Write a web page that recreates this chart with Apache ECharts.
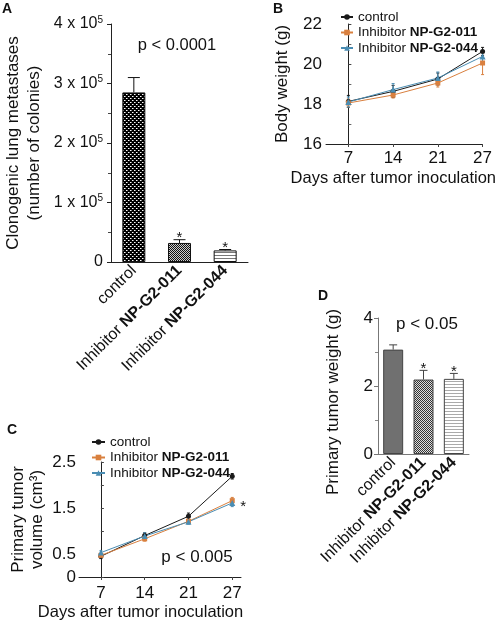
<!DOCTYPE html>
<html><head><meta charset="utf-8">
<script src="https://cdn.jsdelivr.net/npm/echarts@6/dist/echarts.min.js"></script>
<style>html,body{margin:0;padding:0;background:#fff}#c{width:498px;height:624px}</style>
</head><body><div id="c"></div>
<script>
// ---------------- DATA ----------------
const barCategories = ['control', 'Inhibitor NP-G2-011', 'Inhibitor NP-G2-044'];
// Panel A: clonogenic lung metastases (number of colonies)
const lungMetMeans = [285000, 32000, 19500];
const lungMetErr = [25000, 5500, 1500];
const lungMetSig = ['', '*', '*'];
// Panel B / C: days after tumor inoculation
const days = ['7', '14', '21', '27'];
const seriesNames = ['control', 'Inhibitor NP-G2-011', 'Inhibitor NP-G2-044'];
// Panel B: body weight (g)
const bwControl = [18.13, 18.63, 19.25, 20.63];
const bwControlErr = [0.3, 0.3, 0.3, 0.2];
const bw011 = [18.05, 18.45, 19.05, 20.05];
const bw011Err = [0.2, 0.15, 0.2, 0.58];
const bw044 = [18.1, 18.72, 19.3, 20.38];
const bw044Err = [0.25, 0.3, 0.3, 0.3];
// Panel C: primary tumor volume (cm3)
const tvControl = [0.45, 0.9, 1.32, 2.19];
const tvControlErr = [0.05, 0.06, 0.07, 0.06];
const tv011 = [0.47, 0.83, 1.21, 1.66];
const tv011Err = [0.04, 0.05, 0.05, 0.07];
const tv044 = [0.53, 0.89, 1.2, 1.61];
const tv044Err = [0.04, 0.07, 0.05, 0.08];
const tvSig = ['', '', '', '*'];
const tvLabeledTicks = [0, 0.5, 1.5, 2.5];
// Panel D: primary tumor weight (g)
const twMeans = [3.07, 2.19, 2.21];
const twErr = [0.14, 0.27, 0.16];
const twSig = ['', '*', '*'];

// ---------------- STYLE ----------------
const FONT = 'Liberation Sans, Arial, Helvetica, sans-serif';
const TXT = '#111';
const COLORS = ['#1a1a1a', '#d9803f', '#4a8db3'];
const SYMBOLS = ['circle', 'rect', 'triangle'];
const SYMSIZE = [5, 5, 6];

function makePattern(w, h, draw) {
  const c = document.createElement('canvas');
  c.width = w; c.height = h;
  const g = c.getContext('2d');
  draw(g);
  return { image: c, repeat: 'repeat' };
}
const patDots = makePattern(4, 4, g => {
  g.fillStyle = '#000'; g.fillRect(0, 0, 4, 4);
  g.fillStyle = '#fff'; g.fillRect(0, 0, 1, 1); g.fillRect(2, 2, 1, 1);
  g.fillStyle = '#888'; g.fillRect(1, 0, 1, 1); g.fillRect(3, 2, 1, 1);
});
const patChecker = makePattern(2, 2, g => {
  g.fillStyle = '#ccc'; g.fillRect(0, 0, 2, 2);
  g.fillStyle = '#111'; g.fillRect(0, 0, 1, 1); g.fillRect(1, 1, 1, 1);
});
const patStripes = makePattern(3, 3, g => {
  g.fillStyle = '#fff'; g.fillRect(0, 0, 3, 3);
  g.fillStyle = '#777'; g.fillRect(0, 0, 3, 1);
});
const patCheckerD = makePattern(2, 2, g => {
  g.fillStyle = '#ddd'; g.fillRect(0, 0, 2, 2);
  g.fillStyle = '#333'; g.fillRect(0, 0, 1, 1); g.fillRect(1, 1, 1, 1);
});
const patStripesD = makePattern(3, 3, g => {
  g.fillStyle = '#fff'; g.fillRect(0, 0, 3, 3);
  g.fillStyle = '#aaa'; g.fillRect(0, 0, 3, 1);
});
const patternsA = [patDots, patChecker, patStripes];
const patternsD = ['#707070', patCheckerD, patStripesD];

function catLabel(v) {
  if (v.indexOf('Inhibitor ') === 0) return 'Inhibitor {b|' + v.slice(10) + '}';
  return v;
}

function errSeries(x, y, means, errs, sigs, color, cap, both, z) {
  return {
    type: 'custom', xAxisIndex: x, yAxisIndex: y, z: z || 3, silent: true,
    data: means.map((m, i) => [i, m, errs[i]]),
    encode: { x: 0, y: 1 },
    renderItem: function (params, api) {
      const i = params.dataIndex;
      const xv = api.value(0), m = api.value(1), e = api.value(2);
      const pTop = api.coord([xv, m + e]);
      const pMid = api.coord([xv, m]);
      const pBot = both ? api.coord([xv, m - e]) : pMid;
      const st = { stroke: color, lineWidth: 1 };
      const ch = [
        { type: 'line', shape: { x1: pTop[0], y1: pTop[1], x2: pBot[0], y2: pBot[1] }, style: st },
        { type: 'line', shape: { x1: pTop[0] - cap / 2, y1: pTop[1], x2: pTop[0] + cap / 2, y2: pTop[1] }, style: st }
      ];
      if (both) ch.push({ type: 'line', shape: { x1: pBot[0] - cap / 2, y1: pBot[1], x2: pBot[0] + cap / 2, y2: pBot[1] }, style: st });
      if (sigs && sigs[i]) ch.push({ type: 'text', x: pTop[0], y: pTop[1] - 2,
        style: { text: sigs[i], fill: TXT, font: '15px ' + FONT, textAlign: 'center', textVerticalAlign: 'middle' } });
      return { type: 'group', children: ch };
    }
  };
}

function lineSeries(x, y, idx, vals, sigs) {
  const s = {
    type: 'line', name: seriesNames[idx], xAxisIndex: x, yAxisIndex: y,
    data: vals.map((v, i) => [i, v]),
    symbol: SYMBOLS[idx], symbolSize: SYMSIZE[idx], showSymbol: true,
    itemStyle: { color: COLORS[idx] }, lineStyle: { color: COLORS[idx], width: 1 }, z: 4
  };
  if (sigs) {
    s.label = { show: true, position: 'right', distance: 5, offset: [0, 4],
      formatter: p => sigs[p.dataIndex], fontSize: 15, fontFamily: FONT, color: TXT };
  }
  return s;
}

const axisLineDark = { lineStyle: { color: '#222', width: 1 } };
const axisLineGray = { lineStyle: { color: '#777', width: 1 } };
const richBold = (fs) => ({ b: { fontWeight: 'bold', fontSize: fs, fontFamily: FONT, color: TXT } });

const chart = echarts.init(document.getElementById('c'), null, { renderer: 'canvas' });
const option = {
  animation: false,
  backgroundColor: '#fff',
  textStyle: { fontFamily: FONT, color: TXT },
  grid: [
    { left: 111, top: 24, width: 137, height: 238 },
    { left: 326, top: 24, width: 157, height: 120 },
    { left: 79, top: 462, width: 162, height: 115 },
    { left: 378, top: 318, width: 91, height: 136 }
  ],
  legend: [0, 1].map(k => ({
    orient: 'vertical', left: k === 0 ? 340 : 91, top: k === 0 ? 10 : 435,
    padding: 0, itemGap: 1.5, itemWidth: k === 0 ? 12 : 13, itemHeight: 7,
    data: seriesNames,
    formatter: catLabel,
    textStyle: { fontSize: 13.5, fontFamily: FONT, color: TXT, lineHeight: 14, rich: richBold(13.5) }
  })),
  xAxis: [
    { type: 'category', gridIndex: 0, data: barCategories, axisLine: axisLineDark,
      axisTick: { alignWithLabel: true, length: 3, lineStyle: { color: '#444' } },
      axisLabel: { rotate: 45, margin: 6, fontSize: 16, color: TXT, formatter: catLabel, rich: richBold(16) } },
    { type: 'value', gridIndex: 1, min: -0.5, max: 3, axisLine: axisLineDark, splitLine: { show: false },
      axisTick: { customValues: [0, 1, 2, 3], length: 3, lineStyle: { color: '#444' } },
      axisLabel: { customValues: [0, 1, 2, 3], formatter: v => days[v], fontSize: 17, margin: 6, color: TXT },
      name: 'Days after tumor inoculation', nameLocation: 'middle', nameGap: 26,
      nameTextStyle: { fontSize: 16.5, color: TXT, padding: [0, 22, 0, 0] } },
    { type: 'value', gridIndex: 2, min: -0.5, max: 3.2, axisLine: axisLineDark, splitLine: { show: false },
      axisTick: { customValues: [0, 1, 2, 3], length: 3, lineStyle: { color: '#444' } },
      axisLabel: { customValues: [0, 1, 2, 3], formatter: v => days[v], fontSize: 17, margin: 8, color: TXT },
      name: 'Days after tumor inoculation', nameLocation: 'middle', nameGap: 27,
      nameTextStyle: { fontSize: 16.5, color: TXT, padding: [0, 39, 0, 0] } },
    { type: 'category', gridIndex: 3, data: barCategories, axisLine: axisLineGray,
      axisTick: { alignWithLabel: true, length: 3, lineStyle: { color: '#888' } },
      axisLabel: { rotate: 45, margin: 6, fontSize: 16, color: TXT, formatter: catLabel, rich: richBold(16) } }
  ],
  yAxis: [
    { type: 'value', gridIndex: 0, min: 0, max: 400000, interval: 100000, axisLine: { show: true, lineStyle: { color: '#222' } },
      splitLine: { show: false }, axisTick: { show: true, length: 4, lineStyle: { color: '#222' } },
      minorTick: { show: true, splitNumber: 2, length: 3, lineStyle: { color: '#444' } },
      axisLabel: { margin: 8, color: TXT, fontSize: 16,
        formatter: v => v === 0 ? '{m|0}' : '{m|' + (v / 100000) + ' x 10}{s|5}',
        rich: { m: { fontSize: 16, fontFamily: FONT, color: TXT, lineHeight: 18 },
                s: { fontSize: 10, fontFamily: FONT, color: TXT, verticalAlign: 'top', lineHeight: 10 } } },
      name: 'Clonogenic lung metastases\n(number of colonies)', nameLocation: 'middle', nameRotate: 90, nameGap: 66,
      nameTextStyle: { fontSize: 17, lineHeight: 21, color: TXT } },
    { type: 'value', gridIndex: 1, min: 16, max: 22, interval: 2, axisLine: { show: true, lineStyle: { color: '#222' } },
      splitLine: { show: false }, axisTick: { show: true, inside: true, length: 3, lineStyle: { color: '#444' } },
      minorTick: { show: true, splitNumber: 2, length: 3, lineStyle: { color: '#666' } },
      axisLabel: { margin: 4, fontSize: 17, color: TXT },
      name: 'Body weight (g)', nameLocation: 'middle', nameRotate: 90, nameGap: 35,
      nameTextStyle: { fontSize: 17, color: TXT } },
    { type: 'value', gridIndex: 2, min: 0, max: 2.5, interval: 0.5, axisLine: { show: true, lineStyle: { color: '#222' } },
      splitLine: { show: false }, axisTick: { show: true, inside: true, length: 3, lineStyle: { color: '#444' } },
      axisLabel: { margin: 3, fontSize: 17, color: TXT,
        formatter: v => tvLabeledTicks.some(t => Math.abs(t - v) < 1e-9) ? String(v) : '' },
      name: 'Primary tumor\nvolume (cm³)', nameLocation: 'middle', nameRotate: 90, nameGap: 32,
      nameTextStyle: { fontSize: 17, lineHeight: 19, color: TXT } },
    { type: 'value', gridIndex: 3, min: 0, max: 4, interval: 2, axisLine: { show: true, lineStyle: { color: '#777' } },
      splitLine: { show: false }, axisTick: { show: true, length: 4, lineStyle: { color: '#777' } },
      minorTick: { show: true, splitNumber: 2, length: 3, lineStyle: { color: '#888' } },
      axisLabel: { margin: 5, fontSize: 17, color: TXT },
      name: 'Primary tumor weight (g)', nameLocation: 'middle', nameRotate: 90, nameGap: 36,
      nameTextStyle: { fontSize: 17, color: TXT, padding: [0, 32, 0, 0] } }
  ],
  graphic: [
    { type: 'text', left: 2, top: 2, style: { text: 'A', font: 'bold 14px ' + FONT, fill: TXT } },
    { type: 'text', left: 273, top: 2, style: { text: 'B', font: 'bold 14px ' + FONT, fill: TXT } },
    { type: 'text', left: 7, top: 423, style: { text: 'C', font: 'bold 14px ' + FONT, fill: TXT } },
    { type: 'text', left: 318, top: 289, style: { text: 'D', font: 'bold 14px ' + FONT, fill: TXT } },
    { type: 'text', x: 177, y: 45, style: { text: 'p < 0.0001', font: '16.5px ' + FONT, fill: TXT, textAlign: 'center', textVerticalAlign: 'middle' } },
    { type: 'text', x: 427, y: 324, style: { text: 'p < 0.05', font: '17px ' + FONT, fill: TXT, textAlign: 'center', textVerticalAlign: 'middle' } },
    { type: 'text', x: 197, y: 557, style: { text: 'p < 0.005', font: '17px ' + FONT, fill: TXT, textAlign: 'center', textVerticalAlign: 'middle' } }
  ],
  series: [
    { type: 'bar', xAxisIndex: 0, yAxisIndex: 0, barWidth: 23, z: 2,
      data: lungMetMeans.map((v, i) => ({ value: v, itemStyle: { color: patternsA[i] } })),
      itemStyle: { borderColor: '#111', borderWidth: 1 } },
    errSeries(0, 0, lungMetMeans, lungMetErr, lungMetSig, '#111', 12, false),
    lineSeries(1, 1, 0, bwControl), lineSeries(1, 1, 1, bw011), lineSeries(1, 1, 2, bw044),
    errSeries(1, 1, bwControl, bwControlErr, null, COLORS[0], 3, true),
    errSeries(1, 1, bw011, bw011Err, null, COLORS[1], 3, true),
    errSeries(1, 1, bw044, bw044Err, null, COLORS[2], 3, true),
    lineSeries(2, 2, 0, tvControl), lineSeries(2, 2, 1, tv011), lineSeries(2, 2, 2, tv044, tvSig),
    errSeries(2, 2, tvControl, tvControlErr, null, COLORS[0], 3, true),
    errSeries(2, 2, tv011, tv011Err, null, COLORS[1], 3, true),
    errSeries(2, 2, tv044, tv044Err, null, COLORS[2], 3, true),
    { type: 'bar', xAxisIndex: 3, yAxisIndex: 3, barWidth: 20, z: 2,
      data: twMeans.map((v, i) => ({ value: v, itemStyle: { color: patternsD[i] } })),
      itemStyle: { borderColor: '#444', borderWidth: 1 } },
    errSeries(3, 3, twMeans, twErr, twSig, '#444', 8, false)
  ]
};
chart.setOption(option);
</script>
</body></html>
